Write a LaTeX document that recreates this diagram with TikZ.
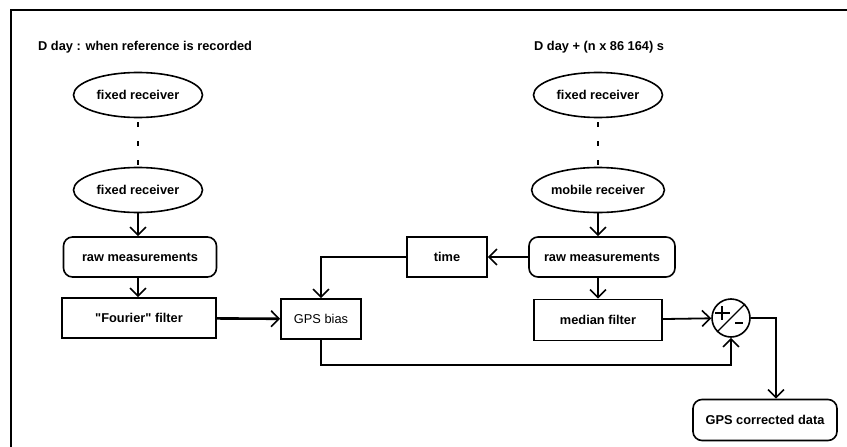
\documentclass[tikz,border=0pt]{standalone}
\usepackage{fontspec}
\setmainfont{Liberation Sans}[Ligatures=TeXOff]
\usetikzlibrary{arrows.meta,shapes.geometric,calc}
\tikzset{
  recv/.style={draw, ellipse, line width=1.6pt, minimum width=129pt, minimum height=45pt, inner sep=0pt, font=\bfseries\fontsize{12.8}{15}\selectfont},
  meas/.style={draw, rounded corners=9pt, line width=1.6pt, minimum height=40pt, inner sep=0pt, font=\bfseries\fontsize{12.8}{15}\selectfont},
  block/.style={draw, rectangle, line width=1.6pt, minimum height=40pt, inner sep=0pt, font=\bfseries\fontsize{12.8}{15}\selectfont},
  sumcirc/.style={draw, circle, line width=1.6pt, minimum size=38pt, inner sep=0pt},
  title/.style={anchor=west, inner sep=0pt, font=\bfseries\fontsize{12.8}{15}\selectfont},
  flow/.style={line width=1.8pt, -{Straight Barb[length=8pt, width=16pt, line width=1.6pt]}},
  link/.style={line width=1.3pt, dash pattern=on 5pt off 14pt, dash phase=15pt},
  symb/.style={line width=1.4pt}
}

\begin{document}
\begin{tikzpicture}[x=1pt, y=-1pt]
  \useasboundingbox (0,0) rectangle (847,447);
  \clip (0,0) rectangle (847,447);
  % Frame
  \draw[line width=1.8pt] (860,10) -- (11,10) -- (11,460);

  % Titles
  \node[title] (dayL) at (38,47) {D day : when reference is recorded};
  \node[title] (dayR) at (534,47) {D day + (n x 86 164) s};

  % Reference day
  \node[recv] (fixL1) at (138,95) {fixed receiver};
  \node[recv] (fixL2) at (138,190) {fixed receiver};
  \node[meas, minimum width=153pt] (rawL) at (140,257) {raw measurements};
  \node[block, minimum width=154pt] (fourier) at (139,318) {"Fourier" filter};
  \node[block, minimum width=80pt, font=\fontsize{12.8}{15}\selectfont] (bias) at (321,319) {GPS bias};

  % Later day
  \node[recv] (fixR) at (598,95) {fixed receiver};
  \node[recv] (mob) at (598,190) {mobile receiver};
  \node[meas, minimum width=146pt] (rawR) at (602,257) {raw measurements};
  \node[block, minimum width=80pt] (time) at (447,257) {time};
  \node[block, minimum width=128pt, minimum height=41pt] (median) at (598,320) {median filter};
  \node[sumcirc] (sum) at (731,318) {};
  \node[meas, minimum width=144pt, minimum height=41pt] (corr) at (765,420) {GPS corrected data};

  % +/- sign
  \draw[symb] (sum.225) -- (sum.45);
  \draw[symb] ($(sum)+(-16,-5)$) -- ++(15,0) ($(sum)+(-9,-12)$) -- ++(0,14);
  \draw[symb] ($(sum)+(4,5)$) -- ++(8,0);

  % Connectors
  \draw[link] (fixL1) -- (fixL2);
  \draw[link] (fixR) -- (mob);
  \draw[flow] (fixL2.south) -- (fixL2.south |- rawL.north);
  \draw[flow] (rawL.south -| fixL2.south) -- (fixL2.south |- fourier.north);
  \draw[flow, line width=2.6pt] (fourier) -- (bias);
  \draw[flow] (mob.south) -- (mob.south |- rawR.north);
  \draw[flow] (rawR.south -| mob.south) -- (mob.south |- median.north);
  \draw[flow] (rawR) -- (time);
  \draw[flow] (time.west) -| (bias.north);
  \draw[flow] (median) -- (sum);
  \draw[flow] (bias.south) -- ++(0,25) -| (sum.south);
  \coordinate (bend) at (776,318);
  \draw[flow] (sum.east) -- (bend) -- (bend |- corr.north);
\end{tikzpicture}
\end{document}
